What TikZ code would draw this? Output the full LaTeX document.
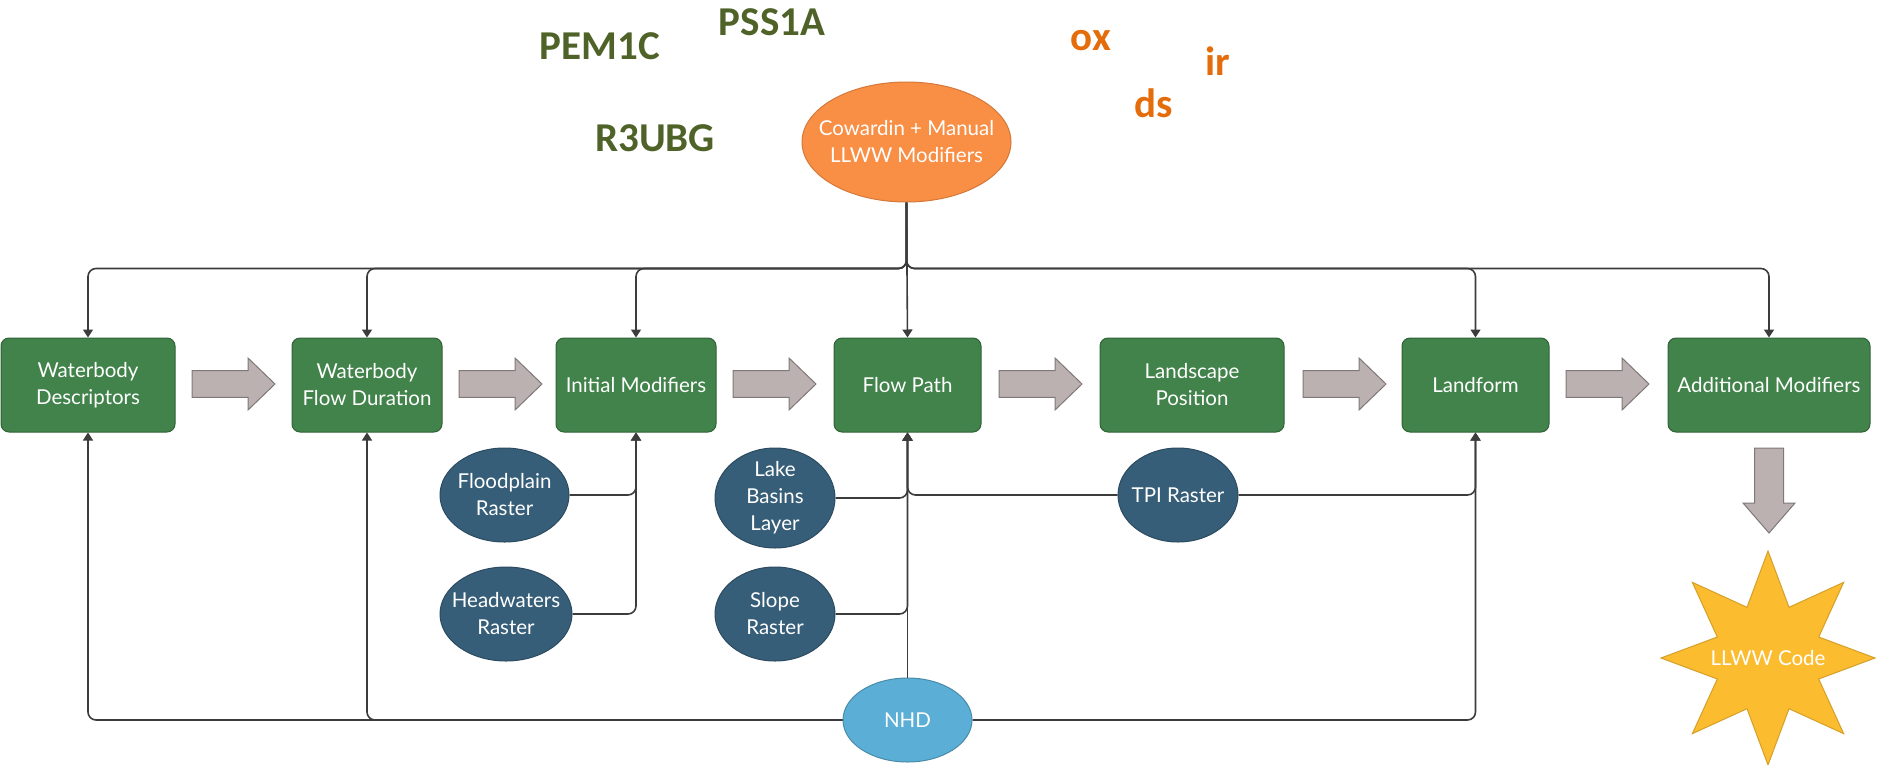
\documentclass[tikz,border=0pt]{standalone}
\usepackage{fontspec}
\setmainfont{Lato}
\newfontfamily\labfont{Carlito}
\usetikzlibrary{arrows.meta,shapes.geometric}
\definecolor{boxgreen}{HTML}{41834A}
\definecolor{labgreen}{HTML}{4F6228}
\definecolor{laborange}{HTML}{E46C0A}
\definecolor{arrowfill}{HTML}{BBB1B1}
\definecolor{arrowline}{HTML}{807878}
\definecolor{slateblue}{HTML}{375E78}
\definecolor{nhdblue}{HTML}{5BAED5}
\definecolor{coworange}{HTML}{F98E45}
\definecolor{staryellow}{HTML}{FBBC2F}
\definecolor{linecol}{HTML}{3C3C3C}
\begin{document}
\begin{tikzpicture}[x=1pt,y=-1pt,
  txt/.style={text=white,font=\fontsize{20.5}{27}\selectfont,align=center},
  stage/.style={txt,rectangle,rounded corners=8pt,fill=boxgreen,draw=boxgreen!75!black,line width=1pt,minimum height=94pt,inner sep=0pt},
  src/.style={ellipse,fill=slateblue,draw=slateblue!80!black,line width=1pt,inner sep=0pt},
  conn/.style={draw=linecol,line width=1.6pt,rounded corners=8pt,-{Triangle[width=10pt,length=8pt]}},
  blockarrow/.style={fill=arrowfill,draw=arrowline,line width=1pt},
  labg/.style={font=\labfont\bfseries\fontsize{41}{41}\selectfont,text=labgreen,anchor=base,inner sep=0pt},
  labo/.style={font=\labfont\bfseries\fontsize{41}{41}\selectfont,text=laborange,anchor=base,inner sep=0pt},
  rarr/.pic={\path[blockarrow] (0,-13.3) -- (56,-13.3) -- (56,-26) -- (83,0) -- (56,26) -- (56,13.3) -- (0,13.3) -- cycle;},
  darr/.pic={\path[blockarrow] (-14.5,0) -- (14.5,0) -- (14.5,55) -- (26,55) -- (0,85) -- (-26,55) -- (-14.5,55) -- cycle;}
]
\useasboundingbox (0,0) rectangle (1883,764);

% top labels
\node[labg] (pem) at (600,59) {PEM1C};
\node[labg] (pss) at (772,35) {PSS1A};
\node[labg] (r3u) at (655,151) {R3UBG};
\node[labo] (ox) at (1091,50) {ox};
\node[labo] (ir) at (1218,75) {ir};
\node[labo] (ds) at (1154,117) {ds};

% source ellipse
\node[ellipse,fill=coworange,draw=coworange!85!black,line width=1pt,inner sep=0pt,minimum width=209pt,minimum height=120pt,
  label={[txt]center:Cowardin + Manual\\LLWW Modifiers}] (cow) at (906.5,142) {};

% stage boxes
\node[stage,minimum width=174pt] (b1) at (88,385) {Waterbody\\Descriptors};
\node[stage,minimum width=150pt] (b2) at (367,385) {Waterbody\\Flow Duration};
\node[stage,minimum width=160pt] (b3) at (636,385) {Initial Modifiers};
\node[stage,minimum width=147pt] (b4) at (907.5,385) {Flow Path};
\node[stage,minimum width=184pt] (b5) at (1192,385) {Landscape\\Position};
\node[stage,minimum width=147pt] (b6) at (1475.5,385) {Landform};
\node[stage,minimum width=202pt] (b7) at (1769,385) {Additional Modifiers};

% block arrows
\pic at (192,384) {rarr};
\pic at (459,384) {rarr};
\pic at (733,384) {rarr};
\pic at (999,384) {rarr};
\pic at (1303,384) {rarr};
\pic at (1566,384) {rarr};
\pic at (1769,448) {darr};

% data sources
\node[src,minimum width=129pt,minimum height=94pt,label={[txt]center:Floodplain\\Raster}] (fp) at (504.5,495) {};
\node[src,minimum width=132pt,minimum height=94pt,label={[txt]center:Headwaters\\Raster}] (hw) at (506,614) {};
\node[src,minimum width=120pt,minimum height=100pt,label={[txt]center:Lake\\Basins\\Layer}] (lb) at (775,498) {};
\node[src,minimum width=120pt,minimum height=94pt,label={[txt]center:Slope\\Raster}] (sl) at (775,614) {};
\node[src,minimum width=120pt,minimum height=94pt,label={[txt]center:TPI Raster}] (tpi) at (1178,495) {};
\node[ellipse,fill=nhdblue,draw=nhdblue!80!black,line width=1pt,inner sep=0pt,minimum width=129pt,minimum height=84pt,
  label={[txt]center:NHD}] (nhd) at (907.5,720) {};

% result star
\node[star,star points=8,star point ratio=1.95,minimum size=214pt,inner sep=0pt,fill=staryellow,draw=staryellow!85!black,line width=1pt,
  label={[txt]center:LLWW Code}] (code) at (1768,658) {};

% connectors from top
\draw[conn] (cow.south) -- ++(0,66) -| (b1.north);
\draw[conn] (cow.south) -- ++(0,66) -| (b2.north);
\draw[conn] (cow.south) -- ++(0,66) -| (b3.north);
\draw[conn] (cow.south) -- (b4.north);
\draw[conn] (cow.south) -- ++(0,66) -| (b6.north);
\draw[conn] (cow.south) -- ++(0,66) -| (b7.north);

% connectors from sources
\draw[conn] (fp.east) -| (b3.south);
\draw[conn] (hw.east) -| (b3.south);
\draw[conn] (lb.east) -| (b4.south);
\draw[conn] (sl.east) -| (b4.south);
\draw[conn] (tpi.west) -| (b4.south);
\draw[conn] (tpi.east) -| (b6.south);
\draw[conn] (nhd.north) -- (b4.south);
\draw[conn] (nhd.west) -| (b1.south);
\draw[conn] (nhd.west) -| (b2.south);
\draw[conn] (nhd.east) -| (b6.south);
\end{tikzpicture}
\end{document}
